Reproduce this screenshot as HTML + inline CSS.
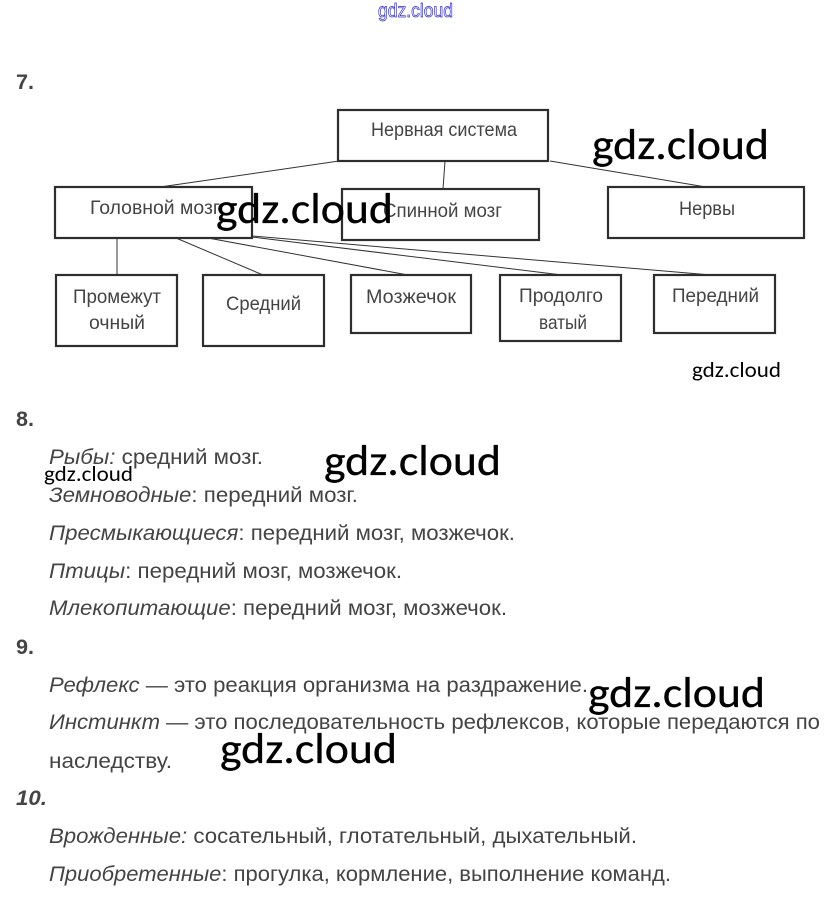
<!DOCTYPE html>
<html><head><meta charset="utf-8">
<style>
html,body{margin:0;padding:0;background:#fff;width:831px;height:903px;overflow:hidden}
svg{display:block}
text{font-family:"Liberation Sans","DejaVu Sans",sans-serif}
.b{font-size:19.5px;fill:#444}
.t{font-size:21px;fill:#444}
.i{font-style:italic}
.n{font-size:21px;font-weight:bold;fill:#444}
.w{font-family:"Carlito","DejaVu Sans","Liberation Sans",sans-serif;fill:#000;stroke:#000;stroke-width:.3px}
.s{stroke-width:0}
.r{fill:#fff;stroke:#2e2e2e;stroke-width:2.2}
.l{stroke:#333;stroke-width:1;fill:none}
</style></head><body>
<svg width="831" height="903" viewBox="0 0 831 903" xmlns="http://www.w3.org/2000/svg">
<rect width="831" height="903" fill="#fff"/>
<text x="378" y="17" font-size="19" fill="#fff" stroke="#2a2ad0" stroke-width="0.7" textLength="75" lengthAdjust="spacingAndGlyphs">gdz.cloud</text>
<text class="n" x="16" y="89" textLength="18" lengthAdjust="spacingAndGlyphs">7.</text>

<g class="l">
<line x1="339" y1="161" x2="160" y2="187"/>
<line x1="445" y1="161" x2="443" y2="189"/>
<line x1="550" y1="161" x2="706" y2="187"/>
<line x1="117" y1="238" x2="117" y2="275"/>
<line x1="176" y1="238" x2="263" y2="275"/>
<line x1="208" y1="238" x2="408" y2="275"/>
<line x1="252" y1="237" x2="562" y2="275"/>
<line x1="252" y1="236" x2="711" y2="275"/>
</g>
<rect class="r" x="338" y="110" width="210" height="51"/>
<rect class="r" x="55" y="187" width="197" height="51"/>
<rect class="r" x="342" y="189" width="197" height="51"/>
<rect class="r" x="608" y="187" width="196" height="51"/>
<rect class="r" x="56" y="275" width="121" height="71"/>
<rect class="r" x="203" y="275" width="121" height="71"/>
<rect class="r" x="351" y="275" width="120" height="58"/>
<rect class="r" x="500" y="275" width="121" height="66"/>
<rect class="r" x="654" y="275" width="121" height="58"/>

<text class="b" x="371" y="136" textLength="146" lengthAdjust="spacingAndGlyphs">Нервная система</text>
<text class="b" x="90" y="214" textLength="130" lengthAdjust="spacingAndGlyphs">Головной мозг</text>
<text class="b" x="383" y="217" textLength="119" lengthAdjust="spacingAndGlyphs">Спинной мозг</text>
<text class="b" x="679" y="215" textLength="56" lengthAdjust="spacingAndGlyphs">Нервы</text>
<text class="b" x="73" y="303" textLength="88" lengthAdjust="spacingAndGlyphs">Промежут</text>
<text class="b" x="89" y="329" textLength="56" lengthAdjust="spacingAndGlyphs">очный</text>
<text class="b" x="226" y="310" textLength="75" lengthAdjust="spacingAndGlyphs">Средний</text>
<text class="b" x="366" y="303" textLength="90" lengthAdjust="spacingAndGlyphs">Мозжечок</text>
<text class="b" x="519" y="302" textLength="84" lengthAdjust="spacingAndGlyphs">Продолго</text>
<text class="b" x="539" y="329" textLength="48" lengthAdjust="spacingAndGlyphs">ватый</text>
<text class="b" x="672" y="302" textLength="87" lengthAdjust="spacingAndGlyphs">Передний</text>

<text class="n" x="16" y="426" textLength="18" lengthAdjust="spacingAndGlyphs">8.</text>
<text class="t" x="49" y="464" textLength="214" lengthAdjust="spacingAndGlyphs"><tspan class="i">Рыбы:</tspan> средний мозг.</text>
<text class="t" x="49" y="502" textLength="309" lengthAdjust="spacingAndGlyphs"><tspan class="i">Земноводные</tspan>: передний мозг.</text>
<text class="t" x="49" y="540" textLength="466" lengthAdjust="spacingAndGlyphs"><tspan class="i">Пресмыкающиеся</tspan>: передний мозг, мозжечок.</text>
<text class="t" x="49" y="578" textLength="353" lengthAdjust="spacingAndGlyphs"><tspan class="i">Птицы</tspan>: передний мозг, мозжечок.</text>
<text class="t" x="49" y="615" textLength="458" lengthAdjust="spacingAndGlyphs"><tspan class="i">Млекопитающие</tspan>: передний мозг, мозжечок.</text>

<text class="n" x="16" y="654" textLength="18" lengthAdjust="spacingAndGlyphs">9.</text>
<text class="t" x="49" y="692" textLength="539" lengthAdjust="spacingAndGlyphs"><tspan class="i">Рефлекс</tspan> — это реакция организма на раздражение.</text>
<text class="t" x="49" y="729" textLength="771" lengthAdjust="spacingAndGlyphs"><tspan class="i">Инстинкт</tspan> — это последовательность рефлексов, которые передаются по</text>
<text class="t" x="49" y="768" textLength="123" lengthAdjust="spacingAndGlyphs">наследству.</text>
<text class="n i" x="16" y="805" textLength="31" lengthAdjust="spacingAndGlyphs">10.</text>
<text class="t" x="49" y="843" textLength="588" lengthAdjust="spacingAndGlyphs"><tspan class="i">Врожденные:</tspan> сосательный, глотательный, дыхательный.</text>
<text class="t" x="49" y="881" textLength="622" lengthAdjust="spacingAndGlyphs"><tspan class="i">Приобретенные</tspan>: прогулка, кормление, выполнение команд.</text>

<g font-size="43">
<text class="w" x="592" y="159" textLength="177" lengthAdjust="spacingAndGlyphs">gdz.cloud</text>
<text class="w" x="216" y="223" textLength="177" lengthAdjust="spacingAndGlyphs">gdz.cloud</text>
<text class="w" x="324" y="475" textLength="177" lengthAdjust="spacingAndGlyphs">gdz.cloud</text>
<text class="w" x="588" y="707" textLength="177" lengthAdjust="spacingAndGlyphs">gdz.cloud</text>
<text class="w" x="220" y="763" textLength="177" lengthAdjust="spacingAndGlyphs">gdz.cloud</text>
</g>
<g font-size="21.5">
<text class="w s" x="692" y="377" textLength="89" lengthAdjust="spacingAndGlyphs">gdz.cloud</text>
<text class="w s" x="44" y="481" textLength="89" lengthAdjust="spacingAndGlyphs">gdz.cloud</text>
</g>
</svg>
</body></html>
